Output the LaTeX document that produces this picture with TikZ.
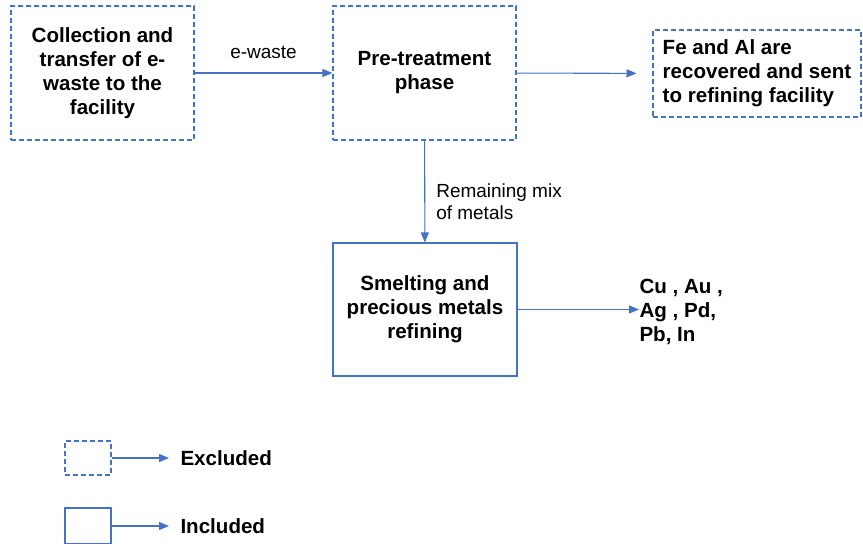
\documentclass[tikz,border=0pt]{standalone}
\usepackage{fontspec}
\setmainfont{Liberation Sans}
\usetikzlibrary{arrows.meta}
\definecolor{lineblue}{HTML}{4472C4}
\begin{document}
\begin{tikzpicture}[x=0.02cm, y=-0.02cm,
    line width=0.6pt,
    box/.style={draw=lineblue, rectangle, inner sep=0pt, align=center,
                font=\fontsize{11.7}{13.6}\selectfont\bfseries},
    excl/.style={box, dash pattern=on 0.1cm off 0.06cm},
    incl/.style={box},
    flow/.style={draw=lineblue, -{Triangle[length=2mm,width=1.6mm]}},
    lbl/.style={font=\fontsize{10.8}{12.5}\selectfont, align=left, inner sep=0pt},
    bold/.style={font=\fontsize{11.7}{13.6}\selectfont\bfseries, align=left, inner sep=0pt}]
  \useasboundingbox (0,0) rectangle (863,544);
  % main boxes
  \node [excl, minimum width=3.66cm, minimum height=2.68cm] (coll) at (102.5,73)
        {Collection and\\transfer of e-\\waste to the\\facility};
  \node [excl, minimum width=3.66cm, minimum height=2.68cm] (pre) at (424.5,73)
        {Pre-treatment\\phase};
  \node [excl, minimum width=4.16cm, minimum height=1.74cm, align=left] (feal) at (757,73.5)
        {Fe and Al are\\recovered and sent\\to refining facility};
  \node [incl, minimum width=3.68cm, minimum height=2.66cm] (smelt) at (425,309.5)
        {Smelting and\\precious metals\\refining};
  \node [bold, anchor=west] (metals) at (639,312) {Cu , Au ,\\Ag , Pd,\\Pb, In};
  % connectors
  \draw [flow] (coll) -- node [lbl, above=0.28cm] (ewaste) {e-waste} (pre);
  \draw [flow, shorten >=0.32cm] (pre) -- (feal);
  \draw [flow] (pre) -- node [lbl, right=0.22cm, pos=0.6] (mix) {Remaining mix\\of metals} (smelt);
  \draw [flow] (smelt.east) -- (metals.west |- smelt.east);
  % legend
  \node [excl, minimum width=0.92cm, minimum height=0.68cm] (lgexcl) at (88,458) {};
  \node [incl, minimum width=0.92cm, minimum height=0.72cm] (lgincl) at (88,526) {};
  \node [bold, anchor=west] (txexcl) at (180,458) {Excluded};
  \node [bold, anchor=west] (txincl) at (180,526) {Included};
  \draw [flow, shorten >=0.22cm] (lgexcl) -- (txexcl);
  \draw [flow, shorten >=0.22cm] (lgincl) -- (txincl);
\end{tikzpicture}
\end{document}
